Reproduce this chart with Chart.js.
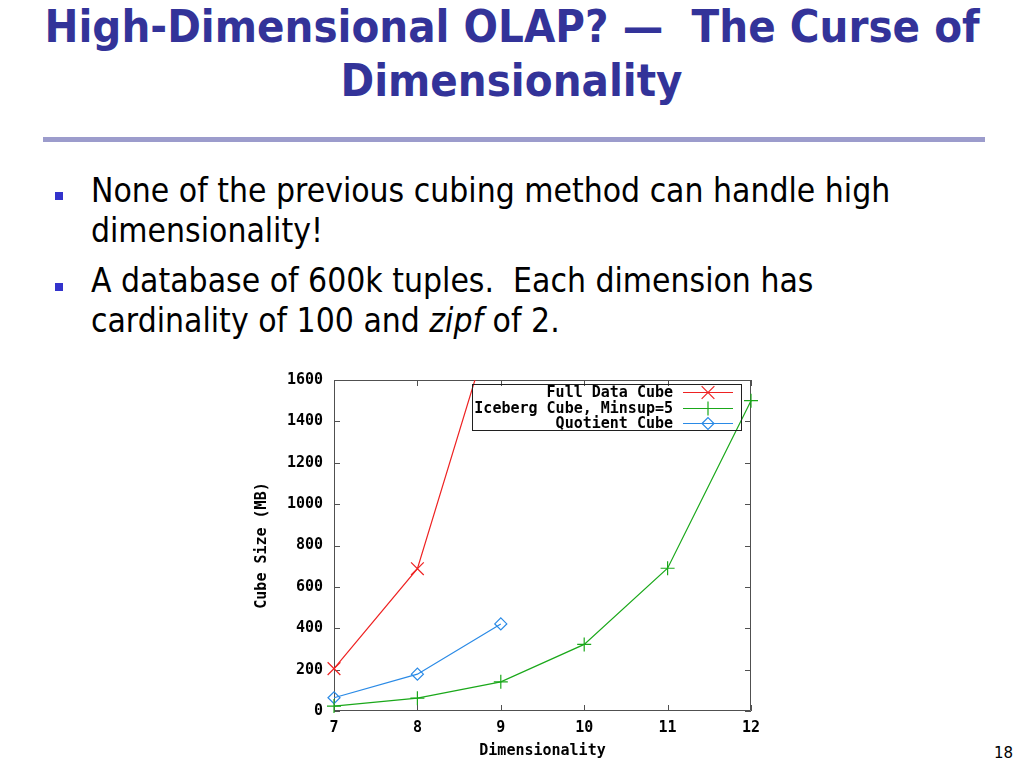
<!DOCTYPE html>
<html><head><meta charset="utf-8">
<script src="https://cdn.jsdelivr.net/npm/chart.js@4.4.0/dist/chart.umd.min.js"></script>
<style>
html,body{margin:0;padding:0;background:#fff;}
body{width:1024px;height:768px;position:relative;overflow:hidden;font-family:"DejaVu Sans",sans-serif;}
.t{position:absolute;left:0;width:1024px;text-align:center;color:#333399;font-weight:bold;font-size:44px;line-height:54px;white-space:nowrap;}
.t span{display:inline-block;transform-origin:50% 50%;}
.rule{position:absolute;left:43px;top:137px;width:942px;height:5px;background:#9c9ccc;}
.b{position:absolute;left:91px;font-size:33px;line-height:37px;color:#000;white-space:nowrap;}
.b span{display:inline-block;transform-origin:0 50%;}
.sq{position:absolute;left:55px;width:8px;height:8px;background:#3333cc;}
#wrap{position:absolute;left:240px;top:360px;width:540px;height:408px;}
.pn{position:absolute;right:11px;top:745px;font-size:15px;line-height:17.5px;color:#000;}
</style>
</head>
<body>
<div class="t" style="top:0px"><span id="t1">High-Dimensional OLAP? —&nbsp; The Curse of</span></div>
<div class="t" style="top:54px"><span id="t2">Dimensionality</span></div>
<div class="rule"></div>

<div class="sq" style="top:192px"></div>
<div class="b" style="top:172px"><span class="bl" id="b1">None of the previous cubing method can handle high</span></div>
<div class="b" style="top:212px"><span class="bl">dimensionality!</span></div>
<div class="sq" style="top:283px"></div>
<div class="b" style="top:262px"><span class="bl">A database of 600k tuples.&nbsp; Each dimension has</span></div>
<div class="b" style="top:302px"><span class="bl">cardinality of 100 and <i>zipf</i> of 2.</span></div>

<div id="wrap"><canvas id="c" width="540" height="408"></canvas></div>
<div class="pn">18</div>

<script>
// ---- data ----
const dimensionality = [7, 8, 9, 10, 11, 12];
const fullDataCube = [205, 688, 2010];             // dims 7,8,9
const icebergCube = [24, 62, 141, 322, 690, 1500]; // dims 7..12
const quotientCube = [64, 178, 421];               // dims 7,8,9
const yTicks = [0, 200, 400, 600, 800, 1000, 1200, 1400, 1600];
const seriesNames = ['Full Data Cube', 'Iceberg Cube, Minsup=5', 'Quotient Cube'];

// ---- text fitting ----
(function(){
  const t1 = document.getElementById('t1');
  const s = 935 / t1.offsetWidth;
  document.querySelectorAll('.t span').forEach(e => e.style.transform = 'scaleX(' + s + ')');
  const b1 = document.getElementById('b1');
  const sb = 799 / b1.offsetWidth;
  document.querySelectorAll('.bl').forEach(e => e.style.transform = 'scaleX(' + sb + ')');
})();

const MONO = '"DejaVu Sans Mono", "Liberation Mono", monospace';
const LS = '0px';
const colors = ['#ee2222', '#1aa81a', '#2a8ae6'];
const styles = ['crossRot', 'cross', 'rectRot'];
const radii = [9, 7, 6];

const pts = (arr) => arr.map((v, i) => ({x: dimensionality[i], y: v}));

const spacingPlugin = {
  id: 'spacing',
  beforeDraw(chart) { chart.ctx.letterSpacing = LS; }
};

const framePlugin = {
  id: 'frame',
  beforeDatasetsDraw(chart) {
    const {ctx, chartArea: a, scales} = chart;
    ctx.save();
    ctx.strokeStyle = '#505050';
    ctx.lineWidth = 1;
    ctx.beginPath();
    ctx.rect(a.left + 0.5, a.top + 0.5, a.right - a.left - 1, a.bottom - a.top - 1);
    const L = 6;
    scales.y.ticks.forEach(t => {
      const y = Math.round(scales.y.getPixelForValue(t.value)) + 0.5;
      ctx.moveTo(a.left, y); ctx.lineTo(a.left + L, y);
      ctx.moveTo(a.right, y); ctx.lineTo(a.right - L, y);
    });
    scales.x.ticks.forEach(t => {
      const x = Math.round(scales.x.getPixelForValue(t.value)) + 0.5;
      ctx.moveTo(x, a.bottom); ctx.lineTo(x, a.bottom - L);
      ctx.moveTo(x, a.top); ctx.lineTo(x, a.top + L);
    });
    ctx.stroke();
    ctx.restore();
  }
};

const legendPlugin = {
  id: 'gpLegend',
  afterDatasetsDraw(chart) {
    const {ctx, chartArea: a} = chart;
    ctx.save();
    ctx.letterSpacing = LS;
    ctx.strokeStyle = '#202020';
    ctx.lineWidth = 1;
    const bx = a.left + 138.5, by = a.top + 4.5, bw = 269, bh = 46;
    ctx.strokeRect(bx, by, bw, bh);
    const rows = [12, 28, 43];
    ctx.font = 'bold 15px ' + MONO;
    ctx.textAlign = 'right';
    ctx.textBaseline = 'middle';
    chart.data.datasets.forEach((ds, i) => {
      const y = a.top + rows[i];
      ctx.fillStyle = '#000';
      ctx.fillText(ds.label, a.left + 339, y + 1);
      ctx.strokeStyle = ds.borderColor;
      ctx.fillStyle = 'rgba(0,0,0,0)';
      ctx.lineWidth = 1.2;
      ctx.beginPath();
      ctx.moveTo(a.left + 349, y + 0.5);
      ctx.lineTo(a.left + 399, y + 0.5);
      ctx.stroke();
      Chart.helpers.drawPoint(ctx, {pointStyle: ds.pointStyle, radius: ds.pointRadius, rotation: 0, borderWidth: 1.2}, a.left + 374, y + 0.5);
    });
    ctx.restore();
  }
};

const mk = (i, data) => ({
  label: seriesNames[i],
  data: pts(data),
  borderColor: colors[i],
  backgroundColor: 'rgba(0,0,0,0)',
  borderWidth: 1.2,
  pointStyle: styles[i],
  pointRadius: radii[i],
  pointBorderWidth: 1.2,
  pointBorderColor: colors[i],
  pointBackgroundColor: 'rgba(0,0,0,0)',
  tension: 0,
  fill: false,
  clip: {left: 14, right: 14, top: 0, bottom: 14}
});

const axisFont = {family: MONO, size: 15, weight: 'bold'};

new Chart(document.getElementById('c'), {
  type: 'line',
  data: {
    datasets: [mk(0, fullDataCube), mk(1, icebergCube), mk(2, quotientCube)]
  },
  options: {
    responsive: false,
    animation: false,
    layout: {padding: {top: 17, right: 29, left: 0, bottom: 0}},
    plugins: {legend: {display: false}, tooltip: {enabled: false}},
    scales: {
      x: {
        type: 'linear', min: 7, max: 12,
        afterBuildTicks: s => { s.ticks = dimensionality.map(v => ({value: v})); },
        grid: {display: false, drawTicks: false},
        border: {display: false},
        ticks: {color: '#000', font: axisFont, padding: 8, maxRotation: 0, autoSkip: false, callback: v => String(v)},
        title: {display: true, text: 'Dimensionality', color: '#000', font: axisFont, padding: {top: 0, bottom: 8}},
        afterFit: s => { s.height = 57; }
      },
      y: {
        type: 'linear', min: 0, max: 1600,
        afterBuildTicks: s => { s.ticks = yTicks.map(v => ({value: v})); },
        grid: {display: false, drawTicks: false},
        border: {display: false},
        ticks: {color: '#000', font: axisFont, padding: 11, callback: v => String(v)},
        title: {display: true, text: 'Cube Size (MB)', color: '#000', font: axisFont, padding: {top: 13, bottom: 0}},
        afterFit: s => { s.width = 94; }
      }
    }
  },
  plugins: [spacingPlugin, framePlugin, legendPlugin]
});
</script>
</body></html>
